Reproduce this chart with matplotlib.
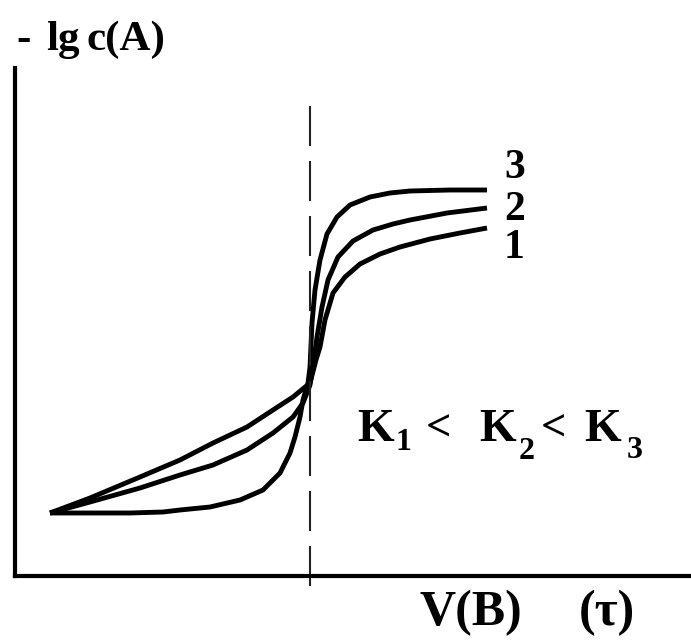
import matplotlib
matplotlib.use("Agg")
import matplotlib.pyplot as plt

plt.rcParams['font.family'] = ['Liberation Serif', 'DejaVu Serif']

# ---- data ----
curve1_x = [35, 75, 125, 165, 198, 232, 258, 278, 295, 301, 305, 310, 318, 330, 345, 365, 385, 415, 445, 472]
curve1_y = [63, 78, 99, 116, 133, 149, 166, 179, 193, 216, 229, 256, 283, 299, 312, 322, 329, 337, 343, 348]

curve2_x = [35, 75, 125, 165, 198, 232, 258, 278, 288, 295, 299, 302, 307, 313, 323, 338, 358, 378, 395, 432, 472]
curve2_y = [63, 74, 88, 101, 111, 126, 143, 159, 173, 191, 216, 239, 269, 296, 319, 335, 346, 352, 356, 363, 368]

curve3_x = [35, 68, 115, 148, 165, 195, 225, 248, 265, 275, 280, 285, 288, 293, 295, 297, 300, 305, 312, 322, 335, 355, 375, 395, 435, 472]
curve3_y = [63, 63, 63, 64, 66, 69, 76, 86, 103, 123, 139, 159, 176, 193, 209, 253, 286, 316, 342, 359, 371, 379, 383, 385, 386, 386]

equiv_x = 295
curve_labels = ['1', '2', '3']
y_label = ['-', 'lg', 'c(A)']
x_label = ['V(B)', '(τ)']
k_parts = ['K', '1', '<', 'K', '2', '<', 'K', '3']

W, H = 691, 641
fig = plt.figure(figsize=(W / 100, H / 100), dpi=100)
fig.patch.set_facecolor('white')
ax = fig.add_axes([15 / W, (H - 576) / H, (W - 15) / W, (576 - 68) / H])
ax.set_xlim(0, 676)
ax.set_ylim(0, 508)
for s in ['top', 'right']:
    ax.spines[s].set_visible(False)
for s in ['left', 'bottom']:
    ax.spines[s].set_linewidth(3.0)
    ax.spines[s].set_color('black')
ax.set_xticks([])
ax.set_yticks([])
ax.patch.set_alpha(0)

lw = 3.5
for xs, ys in [(curve1_x, curve1_y), (curve2_x, curve2_y), (curve3_x, curve3_y)]:
    ax.plot(xs, ys, color='black', lw=lw, solid_joinstyle='round',
            solid_capstyle='butt', clip_on=False)

# dashed equivalence line
ln, = ax.plot([equiv_x, equiv_x], [470, -14], color='#222222', lw=1.5, clip_on=False)
ln.set_dashes([19.2, 7.2])


def ftxt(x, y, s, size, **kw):
    fig.text(x / W, 1 - y / H, s, fontsize=size, fontweight='bold',
             ha='left', va='baseline', **kw)


# curve labels
ftxt(504, 178, curve_labels[2], 30)
ftxt(504, 220, curve_labels[1], 30)
ftxt(504, 258, curve_labels[0], 30)

# K1 < K2 < K3
ftxt(357, 441, k_parts[0], 34)
ftxt(395, 450, k_parts[1], 23)
ftxt(426, 441, k_parts[2], 32)
ftxt(479, 441, k_parts[3], 34)
ftxt(519, 459, k_parts[4], 23)
ftxt(541, 441, k_parts[5], 32)
ftxt(584, 441, k_parts[6], 34)
ftxt(627, 458, k_parts[7], 23)

# axis labels
ftxt(16, 50, y_label[0], 31)
ftxt(46, 50, y_label[1], 31)
ftxt(87, 50, y_label[2], 31)
ftxt(419, 625, x_label[0], 36)
ftxt(579, 625, x_label[1], 36)

fig.savefig('out.png', dpi=100, facecolor='white')
